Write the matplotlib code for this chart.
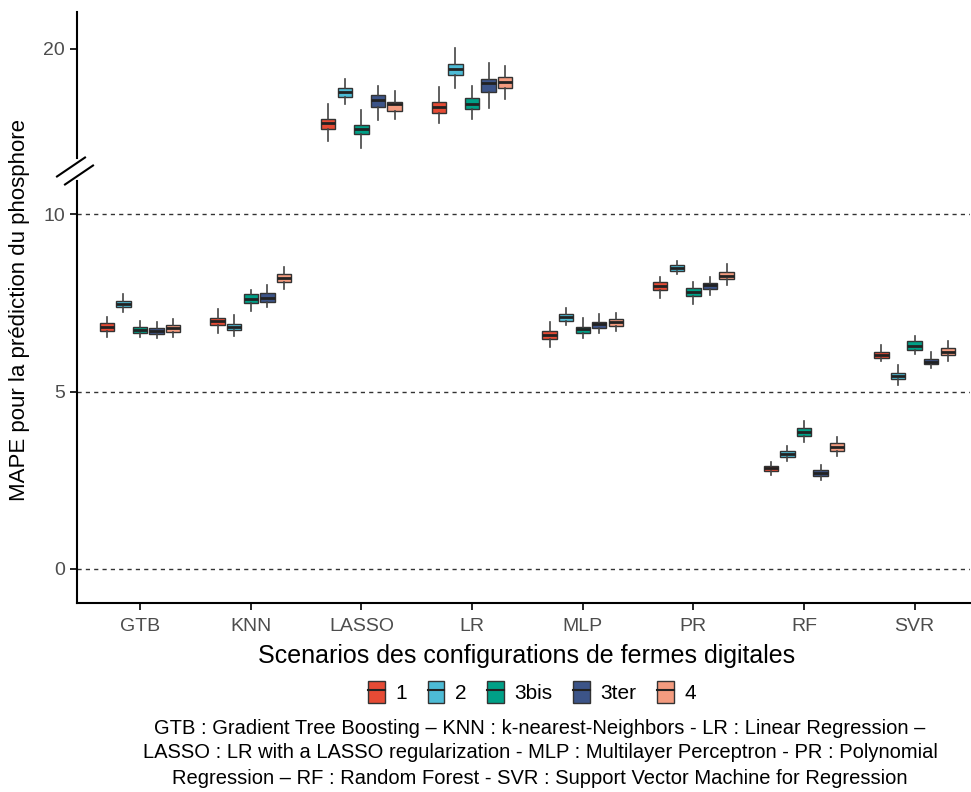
import matplotlib.pyplot as plt
from matplotlib.lines import Line2D
from matplotlib.patches import Patch

plt.rcParams['font.family'] = ['Liberation Sans', 'DejaVu Sans']

models = ['GTB', 'KNN', 'LASSO', 'LR', 'MLP', 'PR', 'RF', 'SVR']
scenarios = ['1', '2', '3bis', '3ter', '4']
colors = ['#E64B35', '#4DBBD5', '#00A087', '#3C5488', '#F39B7F']

# per model : whisker low, q1, median, q3, whisker high
sc_1 = [[6.54, 6.70, 6.82, 6.93, 7.10],
        [6.65, 6.87, 6.99, 7.07, 7.32],
        [17.41, 17.75, 17.92, 18.03, 18.45],
        [17.92, 18.20, 18.37, 18.51, 18.93],
        [6.25, 6.48, 6.59, 6.70, 6.96],
        [7.63, 7.86, 7.97, 8.08, 8.23],
        [2.65, 2.76, 2.85, 2.90, 3.01],
        [5.86, 5.94, 6.03, 6.11, 6.31]]
sc_2 = [[7.24, 7.38, 7.46, 7.55, 7.75],
        [6.56, 6.73, 6.82, 6.90, 7.15],
        [18.45, 18.65, 18.79, 18.90, 19.15],
        [18.90, 19.27, 19.44, 19.58, 20.03],
        [6.87, 6.99, 7.10, 7.18, 7.35],
        [8.31, 8.39, 8.48, 8.56, 8.68],
        [3.04, 3.15, 3.24, 3.32, 3.46],
        [5.18, 5.35, 5.44, 5.52, 5.75]]
sc_3bis = [[6.54, 6.65, 6.73, 6.82, 6.99],
           [7.27, 7.49, 7.61, 7.75, 7.86],
           [17.21, 17.61, 17.75, 17.86, 18.28],
           [18.03, 18.31, 18.45, 18.62, 18.96],
           [6.51, 6.65, 6.76, 6.82, 7.07],
           [7.46, 7.69, 7.80, 7.92, 8.08],
           [3.58, 3.75, 3.86, 3.97, 4.17],
           [6.06, 6.17, 6.28, 6.42, 6.56]]
sc_3ter = [[6.51, 6.62, 6.70, 6.79, 6.96],
           [7.38, 7.52, 7.63, 7.77, 8.00],
           [18.00, 18.37, 18.56, 18.70, 18.96],
           [18.34, 18.79, 19.04, 19.15, 19.61],
           [6.65, 6.79, 6.90, 6.96, 7.18],
           [7.72, 7.89, 8.00, 8.06, 8.23],
           [2.51, 2.62, 2.70, 2.79, 2.93],
           [5.66, 5.77, 5.83, 5.92, 6.11]]
sc_4 = [[6.54, 6.68, 6.79, 6.87, 7.04],
        [7.89, 8.08, 8.20, 8.31, 8.51],
        [18.03, 18.25, 18.45, 18.51, 18.82],
        [18.59, 18.90, 19.07, 19.21, 19.52],
        [6.70, 6.85, 6.96, 7.04, 7.21],
        [8.00, 8.17, 8.25, 8.37, 8.59],
        [3.18, 3.32, 3.44, 3.55, 3.72],
        [5.86, 6.03, 6.11, 6.23, 6.42]]
all_sc = [sc_1, sc_2, sc_3bis, sc_3ter, sc_4]

caption = ("GTB : Gradient Tree Boosting – KNN : k-nearest-Neighbors - LR : Linear Regression –\n"
           "LASSO : LR with a LASSO regularization - MLP : Multilayer Perceptron - PR : Polynomial\n"
           "Regression – RF : Random Forest - SVR : Support Vector Machine for Regression")

W, H = 971, 792
fig = plt.figure(figsize=(W / 100, H / 100), dpi=100)

def fx(px):
    return px / W

def fy(py):
    return (H - py) / H

left, right = 77, 970
ax_lo = fig.add_axes([fx(left), fy(603), fx(right - left), (603 - 181) / H])
ax_hi = fig.add_axes([fx(left), fy(158), fx(right - left), (158 - 12) / H])

edge = '#333333'
dodge = 0.15
bw = 0.13

for ax in (ax_lo, ax_hi):
    for j, sc in enumerate(all_sc):
        stats = []
        for i, v in enumerate(sc):
            stats.append(dict(whislo=v[0], q1=v[1], med=v[2], q3=v[3], whishi=v[4], fliers=[]))
        pos = [i + (j - 2) * dodge for i in range(len(models))]
        ax.bxp(stats, positions=pos, widths=bw, patch_artist=True, showcaps=False,
               showfliers=False, manage_ticks=False,
               boxprops=dict(facecolor=colors[j], edgecolor=edge, linewidth=1),
               whiskerprops=dict(color='#444444', linewidth=1.2),
               medianprops=dict(color='#222222', linewidth=2))
    ax.set_xlim(-0.57, 7.5)
    for s in ['top', 'right']:
        ax.spines[s].set_visible(False)
    ax.spines['left'].set_linewidth(1.5)
    ax.spines['bottom'].set_linewidth(1.5)
    ax.tick_params(axis='y', length=5, width=1.2, labelsize=14, labelcolor='#4d4d4d')
    ax.tick_params(axis='x', length=5, width=1.2, labelsize=14, labelcolor='#4d4d4d', pad=6)

ax_lo.set_ylim(-0.958, 10.93)
ax_lo.set_yticks([0, 5, 10])
ax_lo.set_xticks(range(len(models)))
ax_lo.set_xticklabels(models)
for yv in [0, 5, 10]:
    ax_lo.axhline(yv, color='#333333', lw=1, ls=(0, (3, 3)), zorder=0)

ax_hi.set_ylim(16.93, 21.04)
ax_hi.set_yticks([20])
ax_hi.spines['bottom'].set_visible(False)
ax_hi.set_xticks([])

# axis break marks
for cx, cy in [(71, 167), (79, 175)]:
    fig.add_artist(Line2D([fx(cx - 14), fx(cx + 14)], [fy(cy + 9.5), fy(cy - 9.5)],
                          color='black', lw=1.5, transform=fig.transFigure))

fig.text(fx(20), fy(310), 'MAPE pour la prédiction du phosphore', rotation=90,
         ha='center', va='center', fontsize=16)
fig.text(fx(527), fy(656), 'Scenarios des configurations de fermes digitales',
         ha='center', va='center', fontsize=18)

handles = [(Patch(facecolor=c, edgecolor=edge, linewidth=1), Line2D([], [], color='#222222', lw=1.5))
           for c in colors]
fig.legend(handles, scenarios, loc='center', bbox_to_anchor=(fx(532), fy(692)), ncol=5,
           frameon=False, fontsize=15, handlelength=0.8, handleheight=1.2, handletextpad=0.5,
           columnspacing=1.0)

fig.text(fx(540), fy(753), caption, ha='center', va='center', fontsize=14.5,
         linespacing=1.4, multialignment='center')

fig.savefig('out.png', dpi=100)
